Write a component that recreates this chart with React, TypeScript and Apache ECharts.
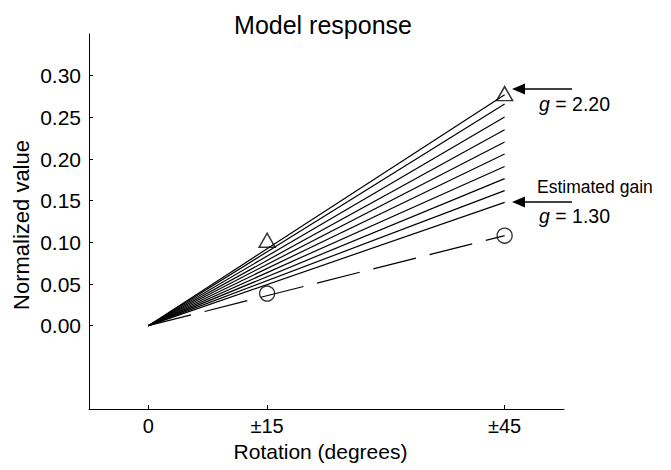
import React, { useEffect, useRef } from "react";
import * as echarts from "echarts";

const gainLabels = ["1.30", "1.40", "1.50", "1.60", "1.70", "1.80", "1.90", "2.00", "2.10", "2.20"];
const fanEndValues = [0.148, 0.162, 0.1765, 0.191, 0.206, 0.2205, 0.235, 0.2505, 0.266, 0.277];
const fanX = [0, 45];
const triangleX = [15, 45];
const triangleY = [0.1025, 0.2785];
const circleX = [15, 45];
const circleY = [0.0385, 0.108];
const dashedX = [0, 45];
const dashedY = [0, 0.108];
const xTickValues = [0, 15, 45];
const xTickLabels = ["0", "±15", "±45"];
const yTickValues = [0, 0.05, 0.1, 0.15, 0.2, 0.25, 0.3];

const FONT = "Liberation Sans, Arial, sans-serif";

export default function App() {
  const ref = useRef<HTMLDivElement>(null);
  useEffect(() => {
    if (!ref.current) return;
    const chart = echarts.init(ref.current, null, { renderer: "svg" });
    const fanSeries = fanEndValues.map((v, i) => ({
      type: "line",
      name: "g " + gainLabels[i],
      data: [
        [fanX[0], 0],
        [fanX[1], v],
      ],
      symbol: "none",
      lineStyle: { color: "#000", width: 1.2 },
      silent: true,
    }));
    const arrow = (tipX: number, y: number, tailX: number) => [
      {
        type: "line",
        shape: { x1: tipX + 10, y1: y, x2: tailX, y2: y },
        style: { stroke: "#000", lineWidth: 1.5 },
      },
      {
        type: "polygon",
        shape: {
          points: [
            [tipX, y],
            [tipX + 13, y - 5.5],
            [tipX + 13, y + 5.5],
          ],
        },
        style: { fill: "#000" },
      },
    ];
    const gText = (x: number, y: number, val: string) => ({
      type: "text",
      x,
      y,
      style: {
        rich: {
          i: { fontStyle: "italic", fontSize: 19.5, fontFamily: FONT, fill: "#000" },
          n: { fontSize: 19.5, fontFamily: FONT, fill: "#000" },
        },
        text: "{i|g}{n| = " + val + "}",
        verticalAlign: "middle",
      },
    });
    chart.setOption({
      animation: false,
      title: {
        text: "Model response",
        left: 318,
        top: 7,
        textAlign: "center",
        textStyle: { fontFamily: FONT, fontSize: 25, fontWeight: "normal", color: "#000" },
      },
      grid: { left: 89, right: 107, top: 34, bottom: 61, outerBoundsMode: "none" },
      xAxis: {
        type: "value",
        min: -7.5,
        max: 52.5,
        name: "Rotation (degrees)",
        nameLocation: "middle",
        nameGap: 32,
        nameTextStyle: { fontFamily: FONT, fontSize: 21, color: "#000", padding: [0, 12, 0, 0] },
        axisLine: { onZero: false, lineStyle: { color: "#000", width: 1 } },
        axisTick: { inside: true, length: 4, customValues: xTickValues, lineStyle: { color: "#000" } },
        axisLabel: {
          customValues: xTickValues,
          fontFamily: FONT,
          fontSize: 20,
          color: "#000",
          margin: 7,
          formatter: (v: number) => xTickLabels[xTickValues.indexOf(v)] ?? "",
        },
        splitLine: { show: false },
      },
      yAxis: {
        type: "value",
        min: -0.1,
        max: 0.35,
        axisLine: { onZero: false, lineStyle: { color: "#000", width: 1 } },
        axisTick: { inside: true, length: 4, customValues: yTickValues, lineStyle: { color: "#000" } },
        axisLabel: {
          customValues: yTickValues,
          fontFamily: FONT,
          fontSize: 21,
          color: "#000",
          margin: 8,
          formatter: (v: number) => v.toFixed(2),
        },
        splitLine: { show: false },
      },
      series: [
        ...fanSeries,
        {
          type: "line",
          name: "dashed",
          data: dashedX.map((x, i) => [x, dashedY[i]]),
          symbol: "none",
          lineStyle: { color: "#000", width: 1.2, type: [44, 14] },
          silent: true,
        },
        {
          type: "scatter",
          name: "triangles",
          data: triangleX.map((x, i) => [x, triangleY[i]]),
          symbol: "triangle",
          symbolSize: [16, 14],
          itemStyle: { color: "transparent", borderColor: "#000", borderWidth: 1.5 },
          silent: true,
        },
        {
          type: "scatter",
          name: "circles",
          data: circleX.map((x, i) => [x, circleY[i]]),
          symbol: "circle",
          symbolSize: 15,
          itemStyle: { color: "transparent", borderColor: "#000", borderWidth: 1.3 },
          silent: true,
        },
      ],
      graphic: [
        {
          type: "text",
          x: 21,
          y: 225,
          rotation: Math.PI / 2,
          style: {
            text: "Normalized value",
            fontFamily: FONT,
            fontSize: 22,
            fill: "#000",
            align: "center",
            verticalAlign: "middle",
          },
        },
        ...arrow(512, 89, 572),
        gText(539, 104, gainLabels[9]),
        {
          type: "text",
          x: 537,
          y: 187,
          style: {
            text: "Estimated gain",
            fontFamily: FONT,
            fontSize: 17.5,
            fill: "#000",
            verticalAlign: "middle",
          },
        },
        ...arrow(512, 202, 572),
        gText(539, 216, gainLabels[0]),
      ],
    });
    return () => chart.dispose();
  }, []);
  return (
    <div
      ref={ref}
      style={{ position: "fixed", left: 0, top: 0, width: 671, height: 470, background: "#fff" }}
    />
  );
}
